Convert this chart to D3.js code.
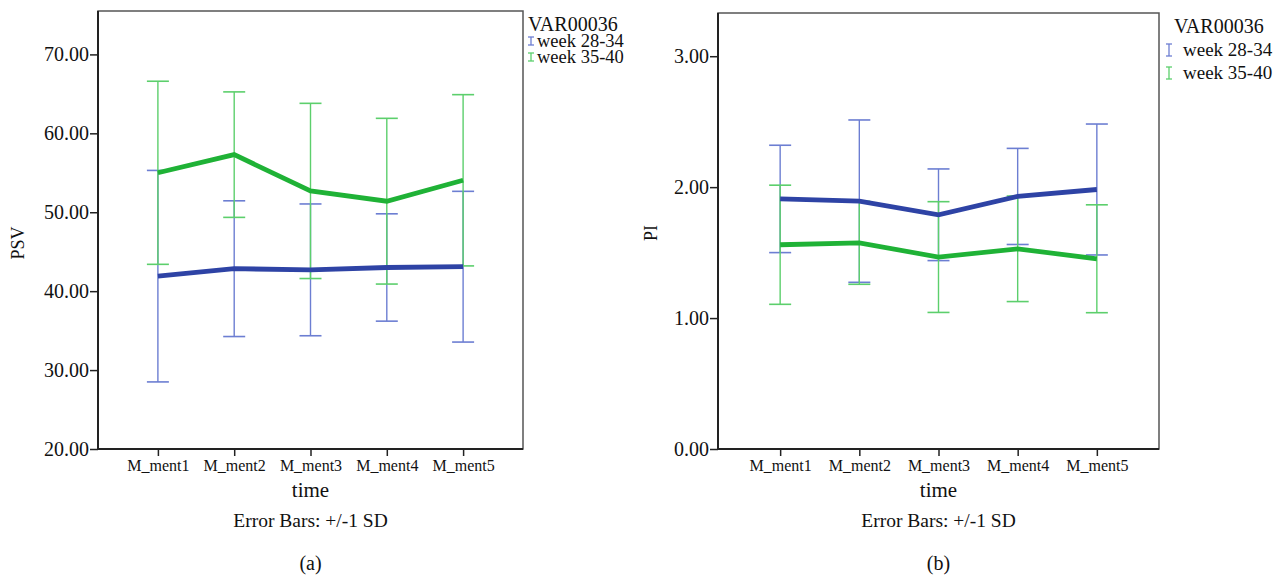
<!DOCTYPE html>
<meta charset="utf-8">
<script src="https://d3js.org/d3.v7.min.js"></script>
<style>
  body { margin: 0; background: #fff; }
  text { font-family: "Liberation Serif", "Times New Roman", serif; fill: #111; }
</style>
<div id="chart"></div>
<script>

// categories and groups
const times = ["M_ment1", "M_ment2", "M_ment3", "M_ment4", "M_ment5"];
const groups = ["week 28-34", "week 35-40"];

// PSV (panel a): means and SDs per group
const psvMean28 = [41.9, 42.85, 42.7, 43.0, 43.1];
const psvSd28   = [13.4, 8.6, 8.35, 6.8, 9.55];
const psvMean35 = [55.0, 57.3, 52.7, 51.4, 54.05];
const psvSd35   = [11.6, 7.95, 11.1, 10.5, 10.85];
const psvTicks  = [20, 30, 40, 50, 60, 70];

// PI (panel b): means and SDs per group
const piMean28 = [1.91, 1.893, 1.789, 1.929, 1.982];
const piSd28   = [0.41, 0.62, 0.35, 0.367, 0.50];
const piMean35 = [1.56, 1.575, 1.466, 1.529, 1.453];
const piSd35   = [0.455, 0.317, 0.423, 0.403, 0.412];
const piTicks  = [0, 1, 2, 3];

const lineColors = ["#2e43a5", "#1fb236"];
const barColors  = ["#6c7ed2", "#5ccf6c"];

const svg = d3.select("#chart").append("svg")
  .attr("width", 1287)
  .attr("height", 576);

function drawPanel(p) {
  const x = d3.scalePoint()
    .domain(times)
    .range([p.left, p.right])
    .padding(0.785);

  const y = d3.scaleLinear()
    .domain(p.domain)
    .range([p.bottom, p.top]);

  const g = svg.append("g");

  // frame: top/right lighter
  g.append("rect")
    .attr("x", p.left).attr("y", p.top)
    .attr("width", p.right - p.left).attr("height", p.bottom - p.top)
    .style("fill", "none").style("stroke", "#555").style("stroke-width", 1.5);

  // axes
  const yAxis = g.append("g")
    .attr("transform", "translate(" + p.left + ",0)")
    .call(d3.axisLeft(y).tickValues(p.ticks).tickFormat(d3.format(".2f")).tickSize(8).tickPadding(1));
  yAxis.select(".domain").remove();
  yAxis.selectAll(".tick line").style("stroke", "#222").style("stroke-width", 1.5);
  yAxis.selectAll(".tick text").style("font-size", "20px").style("font-family", "Liberation Serif").attr("fill", "#111");

  const xAxis = g.append("g")
    .attr("transform", "translate(0," + p.bottom + ")")
    .call(d3.axisBottom(x).tickSize(7).tickPadding(4));
  xAxis.select(".domain").remove();
  xAxis.selectAll(".tick line").style("stroke", "#222").style("stroke-width", 1.5);
  xAxis.selectAll(".tick text").style("font-size", "16px").style("font-family", "Liberation Serif").attr("fill", "#111");

  g.append("line")
    .attr("x1", p.left).attr("x2", p.left).attr("y1", p.top).attr("y2", p.bottom + 1)
    .style("stroke", "#222").style("stroke-width", 2);
  g.append("line")
    .attr("x1", p.left - 1).attr("x2", p.right).attr("y1", p.bottom).attr("y2", p.bottom)
    .style("stroke", "#222").style("stroke-width", 2);

  const series = [
    { mean: p.means[0], sd: p.sds[0], i: 0 },
    { mean: p.means[1], sd: p.sds[1], i: 1 }
  ];

  // error bars
  const capW = 11;
  series.forEach(function (s) {
    const eb = g.append("g");
    times.forEach(function (t, k) {
      const cx = x(t);
      const hi = y(s.mean[k] + s.sd[k]);
      const lo = y(s.mean[k] - s.sd[k]);
      eb.append("line").attr("x1", cx).attr("x2", cx).attr("y1", hi).attr("y2", lo)
        .style("stroke", barColors[s.i]).style("stroke-width", 1.4);
      eb.append("line").attr("x1", cx - capW).attr("x2", cx + capW).attr("y1", hi).attr("y2", hi)
        .style("stroke", barColors[s.i]).style("stroke-width", 1.6);
      eb.append("line").attr("x1", cx - capW).attr("x2", cx + capW).attr("y1", lo).attr("y2", lo)
        .style("stroke", barColors[s.i]).style("stroke-width", 1.6);
    });
  });

  // mean lines
  const line = d3.line()
    .x(function (d, k) { return x(times[k]); })
    .y(function (d) { return y(d); });
  series.forEach(function (s) {
    g.append("path")
      .datum(s.mean)
      .attr("d", line)
      .style("fill", "none")
      .style("stroke", lineColors[s.i])
      .style("stroke-width", 4.8)
      .style("stroke-linejoin", "miter");
  });

  // titles
  const cx = (p.left + p.right) / 2;
  g.append("text").attr("x", cx).attr("y", 497).attr("text-anchor", "middle")
    .style("font-size", "21px").text("time");
  g.append("text").attr("x", cx).attr("y", 527).attr("text-anchor", "middle")
    .style("font-size", "19.5px").text("Error Bars: +/-1 SD");
  g.append("text").attr("x", cx).attr("y", 570).attr("text-anchor", "middle")
    .style("font-size", "20px").text(p.caption);
  g.append("text")
    .attr("transform", "translate(" + p.yLabelX + "," + p.yLabelY + ") rotate(-90)")
    .attr("text-anchor", "middle")
    .style("font-size", "18px").text(p.yLabel);

  // legend
  const lg = g.append("g");
  lg.append("text").attr("x", p.legX).attr("y", p.legY)
    .style("font-size", "20px").text("VAR00036");
  groups.forEach(function (name, i) {
    const ly = p.legY + p.legStep * (i + 1);
    const ix = p.iconX;
    const ih = p.iconH;
    const iy = ly - 6;
    lg.append("line").attr("x1", ix).attr("x2", ix).attr("y1", iy - ih / 2).attr("y2", iy + ih / 2)
      .style("stroke", barColors[i]).style("stroke-width", 1.3);
    lg.append("line").attr("x1", ix - 3).attr("x2", ix + 3).attr("y1", iy - ih / 2).attr("y2", iy - ih / 2)
      .style("stroke", barColors[i]).style("stroke-width", 1.3);
    lg.append("line").attr("x1", ix - 3).attr("x2", ix + 3).attr("y1", iy + ih / 2).attr("y2", iy + ih / 2)
      .style("stroke", barColors[i]).style("stroke-width", 1.3);
    lg.append("text").attr("x", p.legTextX).attr("y", ly)
      .style("font-size", p.legFont).text(name);
  });
}

drawPanel({
  left: 98, right: 523, top: 11, bottom: 449,
  domain: [20, 75.5], ticks: psvTicks,
  means: [psvMean28, psvMean35], sds: [psvSd28, psvSd35],
  yLabel: "PSV", yLabelX: 24, yLabelY: 243, caption: "(a)",
  legX: 528, legY: 31, legStep: 16, iconX: 531, iconH: 8, legTextX: 537, legFont: "18.5px"
});

drawPanel({
  left: 718, right: 1159, top: 13, bottom: 449,
  domain: [0, 3.33], ticks: piTicks,
  means: [piMean28, piMean35], sds: [piSd28, piSd35],
  yLabel: "PI", yLabelX: 657, yLabelY: 233, caption: "(b)",
  legX: 1174, legY: 33, legStep: 23, iconX: 1169, iconH: 12, legTextX: 1183, legFont: "19px"
});

</script>
